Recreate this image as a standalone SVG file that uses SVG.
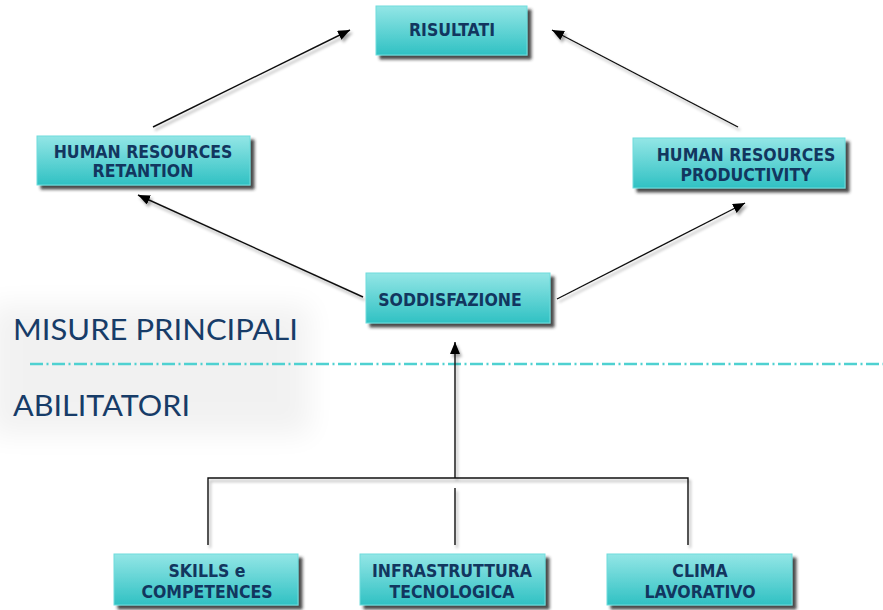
<svg xmlns="http://www.w3.org/2000/svg" width="883" height="610" viewBox="0 0 883 610">
  <defs>
    <linearGradient id="boxFill" x1="0" y1="0" x2="0" y2="1">
      <stop offset="0" stop-color="#93e6e6"/>
      <stop offset="1" stop-color="#30c1c3"/>
    </linearGradient>
    <filter id="boxShadow" x="-10%" y="-20%" width="130%" height="160%">
      <feDropShadow dx="4" dy="4" stdDeviation="1.6" flood-color="#2a2a2a" flood-opacity="0.85"/>
    </filter>
    <filter id="lineShadow" x="-10%" y="-10%" width="120%" height="130%">
      <feDropShadow dx="2" dy="3" stdDeviation="1.6" flood-color="#000" flood-opacity="0.35"/>
    </filter>
    <filter id="haze" x="-30%" y="-30%" width="160%" height="160%">
      <feGaussianBlur stdDeviation="14"/>
    </filter>
    <filter id="dashShadow" x="-5%" y="-200%" width="110%" height="500%">
      <feGaussianBlur stdDeviation="1.3"/>
    </filter>
    <marker id="arrow" markerUnits="userSpaceOnUse" markerWidth="14" markerHeight="12" refX="12" refY="5" orient="auto">
      <path d="M0,0 L12,5 L0,10 Z" fill="#000"/>
    </marker>
  </defs>
  <style>
    .box { fill: url(#boxFill); stroke: #6fdcdc; stroke-width: 1; filter: url(#boxShadow); }
    .lbl { font-family: "DejaVu Sans Condensed", "DejaVu Sans", sans-serif; font-weight: bold; font-size: 17.5px; fill: #12365f; text-anchor: middle; }
    .conn { stroke: #111; stroke-width: 1.4; fill: none; }
    .section { font-family: "Lato", "Noto Sans", sans-serif; font-weight: 400; font-size: 29px; fill: #173c68; }
  </style>

  <rect width="883" height="610" fill="#fff"/>

  <!-- soft haze behind the section titles -->
  <rect x="-10" y="305" width="320" height="130" fill="#000" opacity="0.05" filter="url(#haze)"/>

  <!-- section titles and divider -->
  <g id="sections">
    <text class="section" x="13" y="340" textLength="285" lengthAdjust="spacingAndGlyphs">MISURE PRINCIPALI</text>
    <text class="section" x="13" y="416" textLength="177" lengthAdjust="spacingAndGlyphs">ABILITATORI</text>
    <line x1="30" y1="369" x2="883" y2="369" stroke="#8a8a8a" stroke-width="2.5" stroke-dasharray="13 3.5 2 3.5" opacity="0.55" filter="url(#dashShadow)"/>
    <line x1="30" y1="364" x2="883" y2="364" stroke="#4fd1d1" stroke-width="2.6" stroke-dasharray="13 3.5 2 3.5"/>
  </g>

  <!-- connectors -->
  <g id="connectors" filter="url(#lineShadow)">
    <line class="conn" x1="153" y1="127" x2="350" y2="30" marker-end="url(#arrow)"/>
    <line class="conn" x1="738" y1="127" x2="552" y2="30" marker-end="url(#arrow)"/>
    <line class="conn" x1="363" y1="297" x2="138" y2="195" marker-end="url(#arrow)"/>
    <line class="conn" x1="557" y1="299" x2="745" y2="203" marker-end="url(#arrow)"/>
    <line class="conn" x1="455" y1="478" x2="455" y2="342" marker-end="url(#arrow)"/>
    <polyline class="conn" points="208,545 208,478 688,478 688,545"/>
    <line class="conn" x1="455" y1="488" x2="455" y2="545"/>
  </g>

  <!-- nodes -->
  <g id="risultati">
    <rect class="box" x="376" y="6" width="151" height="49"/>
    <text class="lbl" x="452" y="36">RISULTATI</text>
  </g>
  <g id="hr-retention">
    <rect class="box" x="37" y="136" width="213" height="49"/>
    <text class="lbl" x="143" y="158">HUMAN RESOURCES</text>
    <text class="lbl" x="143" y="177">RETANTION</text>
  </g>
  <g id="hr-productivity">
    <rect class="box" x="633" y="138" width="212" height="50"/>
    <text class="lbl" x="746" y="161">HUMAN RESOURCES</text>
    <text class="lbl" x="746" y="181">PRODUCTIVITY</text>
  </g>
  <g id="soddisfazione">
    <rect class="box" x="366" y="273" width="184" height="50"/>
    <text class="lbl" x="450" y="306">SODDISFAZIONE</text>
  </g>
  <g id="skills">
    <rect class="box" x="114" y="554" width="184" height="51"/>
    <text class="lbl" x="207" y="577">SKILLS e</text>
    <text class="lbl" x="207" y="598">COMPETENCES</text>
  </g>
  <g id="infrastruttura">
    <rect class="box" x="360" y="554" width="185" height="51"/>
    <text class="lbl" x="452" y="577">INFRASTRUTTURA</text>
    <text class="lbl" x="452" y="598">TECNOLOGICA</text>
  </g>
  <g id="clima">
    <rect class="box" x="607" y="554" width="185" height="51"/>
    <text class="lbl" x="700" y="577">CLIMA</text>
    <text class="lbl" x="700" y="598">LAVORATIVO</text>
  </g>
</svg>
